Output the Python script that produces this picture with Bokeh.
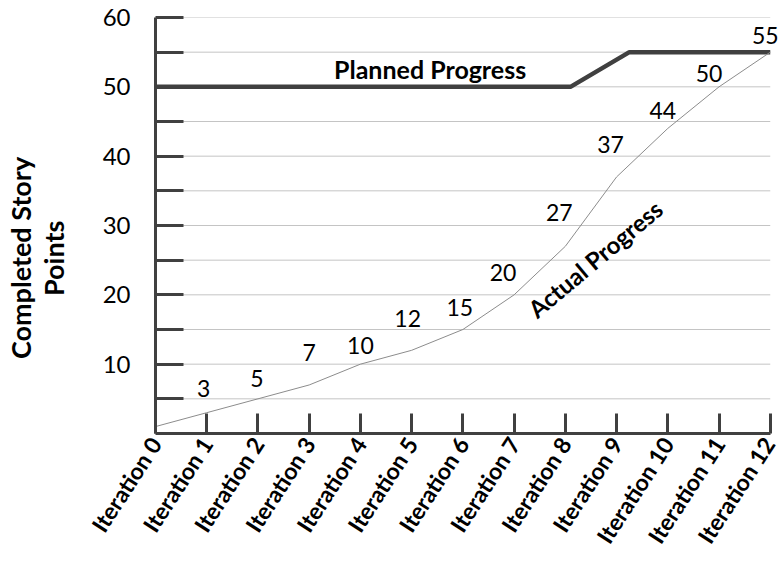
import math
from bokeh.plotting import figure
from bokeh.models import ColumnDataSource, FixedTicker, Range1d, Label, LabelSet
from bokeh.core.properties import value
from bokeh.embed import file_html
from bokeh.resources import INLINE

# --- data -------------------------------------------------------------
iterations = list(range(13))
iteration_labels = [f"Iteration {i}" for i in iterations]
actual_points = [1, 3, 5, 7, 10, 12, 15, 20, 27, 37, 44, 50, 55]

planned_x = [0, 8.1, 9.25, 12]
planned_y = [50, 50, 55, 55]

y_major = [10, 20, 30, 40, 50, 60]
y_minor = [5, 15, 25, 35, 45, 55]

# per-label nudges (pixels) for the value labels on the actual line
label_dx = [0, -3, -1, 0, 0, -4, -3, -11, -6, -6, -5, -10, -5]
label_dy = [0, 24, 20, 32, 19, 32, 22, 22, 34, 32, 18, 13, 17]

FONT = "Lato"
AXIS_COLOR = "#404040"
GRID_COLOR = "#c4c4c4"
PAD = "\u00a0" * 10  # pushes the rotated title a little lower

p = figure(width=780, height=563, output_backend="svg", toolbar_location=None,
           x_range=Range1d(0, 12.2), y_range=Range1d(0, 60),
           min_border_left=152, min_border_right=0,
           min_border_top=17, min_border_bottom=130)
p.outline_line_color = None
p.background_fill_color = "white"
p.border_fill_color = "white"

# horizontal grid lines, spanning only the iteration range
p.xgrid.grid_line_color = None
p.ygrid.grid_line_color = None
grid_levels = sorted(y_major + y_minor)
p.segment(x0=[iterations[0]] * len(grid_levels), x1=[iterations[-1]] * len(grid_levels),
          y0=grid_levels, y1=grid_levels, line_color=GRID_COLOR, line_width=1)

# x axis
p.xaxis.bounds = (iterations[0], iterations[-1])
p.xaxis.ticker = FixedTicker(ticks=iterations)
p.xaxis.major_label_overrides = {i: lab for i, lab in zip(iterations, iteration_labels)}
p.xaxis.major_label_orientation = math.radians(57)
p.xaxis.major_label_text_font = FONT
p.xaxis.major_label_text_font_style = "bold"
p.xaxis.major_label_text_font_size = "23px"
p.xaxis.major_label_text_color = "black"
p.xaxis.major_tick_in = 20
p.xaxis.major_tick_out = 0
p.xaxis.minor_tick_in = 0
p.xaxis.minor_tick_out = 0
p.xaxis.major_label_standoff = 6

# y axis
p.yaxis.ticker = FixedTicker(ticks=y_major, minor_ticks=y_minor)
p.yaxis.major_label_text_font = FONT
p.yaxis.major_label_text_font_size = "24px"
p.yaxis.major_label_text_color = "black"
p.yaxis.major_tick_in = 28
p.yaxis.major_tick_out = 0
p.yaxis.minor_tick_in = 28
p.yaxis.minor_tick_out = 0
p.yaxis.major_label_standoff = 25
p.yaxis.axis_label = "Completed Story" + PAD + "\nPoints" + PAD
p.yaxis.axis_label_text_font = FONT
p.yaxis.axis_label_text_font_style = "bold"
p.yaxis.axis_label_text_font_size = "27px"
p.yaxis.axis_label_text_line_height = 1.0
p.yaxis.axis_label_text_color = "black"
p.yaxis.axis_label_standoff = 30

for ax in (p.xaxis, p.yaxis):
    ax.axis_line_color = AXIS_COLOR
    ax.axis_line_width = 3
    ax.major_tick_line_color = AXIS_COLOR
    ax.major_tick_line_width = 3
    ax.minor_tick_line_color = AXIS_COLOR
    ax.minor_tick_line_width = 3

# lines
p.line(planned_x, planned_y, line_color=AXIS_COLOR, line_width=4.5)
p.line(iterations, actual_points, line_color="#8c8c8c", line_width=1)

# value labels for iterations 1..12
lab_src = ColumnDataSource(dict(
    x=iterations[1:],
    y=actual_points[1:],
    text=[str(v) for v in actual_points[1:]],
    dx=label_dx[1:],
    dy=label_dy[1:],
))
p.add_layout(LabelSet(x="x", y="y", text="text", source=lab_src,
                      x_offset="dx", y_offset="dy",
                      text_font=value(FONT), text_font_size=value("23px"),
                      text_color=value("black"),
                      text_align=value("center"), text_baseline=value("middle")))

# series names
p.add_layout(Label(x=5.36, y=52.6, text="Planned Progress", text_font=FONT,
                   text_font_style="bold", text_font_size="25px", text_color="black",
                   text_align="center", text_baseline="middle"))
p.add_layout(Label(x=8.58, y=25.2, text="Actual Progress", text_font=FONT,
                   text_font_style="bold", text_font_size="24px", text_color="black",
                   text_align="center", text_baseline="middle",
                   angle=math.radians(40)))

open("out.html", "w").write(file_html(p, INLINE))
